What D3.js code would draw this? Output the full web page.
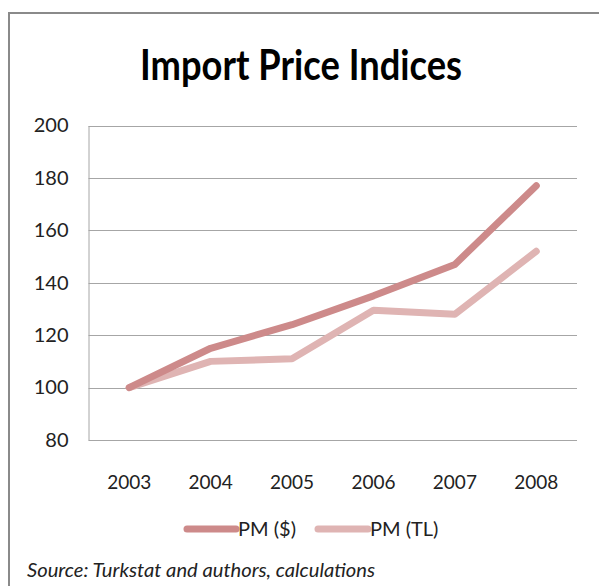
<!DOCTYPE html>
<html>
<head>
<meta charset="utf-8">
<script src="https://cdn.jsdelivr.net/npm/d3@7"></script>
<style>
  html, body { margin: 0; padding: 0; background: #fff; }
  svg { display: block; }
</style>
</head>
<body>
<script>
const years = ["2003", "2004", "2005", "2006", "2007", "2008"];
const pmUSD = [100, 115, 124, 135, 147, 177];
const pmTL = [100, 110, 111, 129.5, 128, 152];
const yTicks = [80, 100, 120, 140, 160, 180, 200];
const seriesNames = ["PM ($)", "PM (TL)"];
const seriesColors = ["#cd8a8a", "#dfb4b3"];

(function () {
const W = 599, H = 586;
const svg = d3.select("body").append("svg").attr("width", W).attr("height", H);

// outer frame (extends beyond right/bottom edges)
svg.append("path")
  .attr("d", `M9,${H + 5} L9,13 L${W + 5},13`)
  .attr("fill", "none").attr("stroke", "#8a8a8a").attr("stroke-width", 2);

// title
svg.append("text")
  .attr("x", 140).attr("y", 80)
  .attr("textLength", 322).attr("lengthAdjust", "spacingAndGlyphs")
  .attr("font-family", "Lato, 'Open Sans', sans-serif")
  .attr("font-weight", "bold").attr("font-size", 42)
  .attr("fill", "#000")
  .text("Import Price Indices");

const pLeft = 88.5, pRight = 577, pTop = 125.5, pBottom = 440;
const x = d3.scaleBand().domain(years).range([pLeft, pRight]).paddingInner(0).paddingOuter(0);
const y = d3.scaleLinear().domain([80, 200]).range([pBottom, pTop]);

// gridlines
svg.append("g").selectAll("line").data(yTicks).join("line")
  .attr("x1", pLeft).attr("x2", pRight)
  .attr("y1", d => Math.round(y(d)) + 0.5).attr("y2", d => Math.round(y(d)) + 0.5)
  .attr("stroke", "#a6a6a6").attr("stroke-width", 1);

// y axis
const yAxis = svg.append("g").attr("transform", `translate(${pLeft},0)`)
  .call(d3.axisLeft(y).tickValues(yTicks).tickSize(0).tickPadding(20));
yAxis.select(".domain").attr("stroke", "#a6a6a6");
yAxis.selectAll("text")
  .attr("font-family", "Lato, 'Open Sans', sans-serif").attr("font-size", 20).attr("fill", "#222");

// x axis
const xAxis = svg.append("g").attr("transform", `translate(0,${pBottom})`)
  .call(d3.axisBottom(x).tickSize(0).tickPadding(36));
xAxis.select(".domain").remove();
xAxis.selectAll("text")
  .attr("font-family", "Lato, 'Open Sans', sans-serif").attr("font-size", 19).attr("fill", "#222");

const cx = d => x(d) + x.bandwidth() / 2;
const line = d3.line().x((d, i) => cx(years[i])).y(d => y(d));

[[pmTL, seriesColors[1]], [pmUSD, seriesColors[0]]].forEach(([s, c]) => {
  svg.append("path").datum(s)
    .attr("d", line)
    .attr("fill", "none")
    .attr("stroke", c)
    .attr("stroke-width", 7)
    .attr("stroke-linecap", "round")
    .attr("stroke-linejoin", "round");
});

// legend
const legendItems = [
  { name: seriesNames[0], color: seriesColors[0], x0: 187, x1: 236, tx: 238 },
  { name: seriesNames[1], color: seriesColors[1], x0: 318, x1: 368, tx: 370 }
];
const lg = svg.append("g");
legendItems.forEach(it => {
  lg.append("line").attr("x1", it.x0).attr("x2", it.x1).attr("y1", 529).attr("y2", 529)
    .attr("stroke", it.color).attr("stroke-width", 7).attr("stroke-linecap", "round");
  lg.append("text").attr("x", it.tx).attr("y", 536)
    .attr("font-family", "Lato, 'Open Sans', sans-serif").attr("font-size", 20).attr("fill", "#222")
    .text(it.name);
});

// source
svg.append("text")
  .attr("x", 27).attr("y", 577)
  .attr("textLength", 348).attr("lengthAdjust", "spacingAndGlyphs")
  .attr("font-family", "Lato, 'Open Sans', sans-serif").attr("font-style", "italic")
  .attr("font-size", 19).attr("fill", "#222")
  .text("Source: Turkstat and authors, calculations");
})();
</script>
</body>
</html>
